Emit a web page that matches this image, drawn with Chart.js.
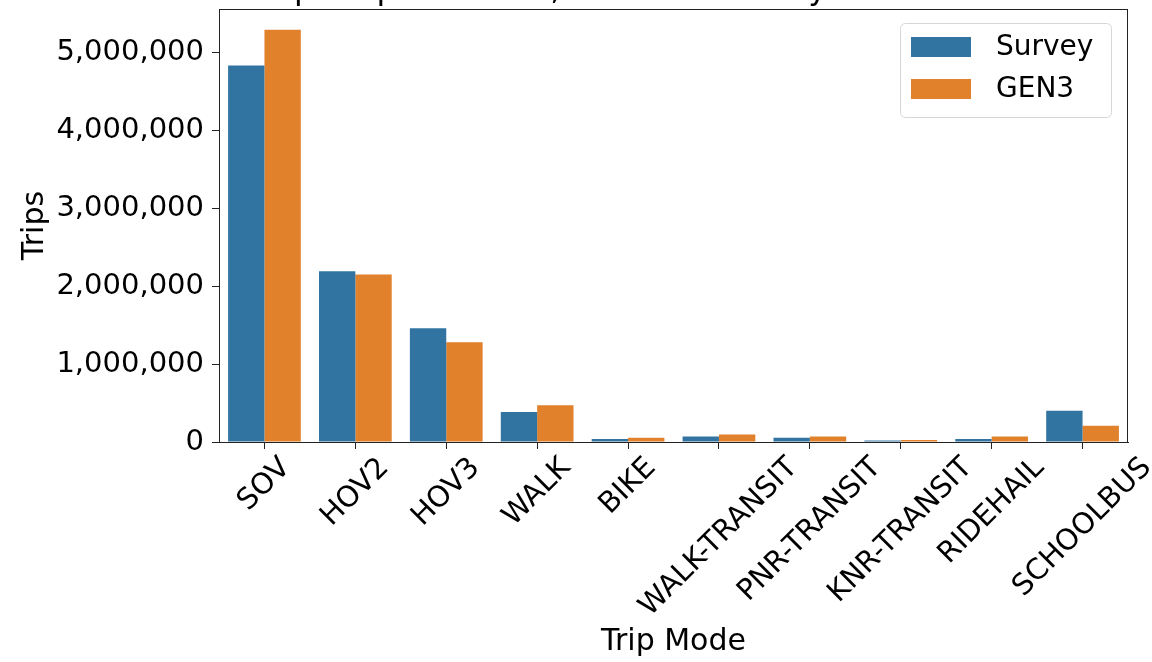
<!DOCTYPE html>
<html>
<head>
<meta charset="utf-8">
<script src="https://cdn.jsdelivr.net/npm/chart.js@4/dist/chart.umd.min.js"></script>
<style>
  html, body { margin: 0; padding: 0; background: #fff; }
  canvas { display: block; }
</style>
</head>
<body>
<canvas id="chart" width="1152" height="662"></canvas>
<script>
// chart data
const modes = ['SOV', 'HOV2', 'HOV3', 'WALK', 'BIKE', 'WALK-TRANSIT', 'PNR-TRANSIT', 'KNR-TRANSIT', 'RIDEHAIL', 'SCHOOLBUS'];
const surveyTrips = [4830000, 2190000, 1460000, 385000, 38000, 72000, 55000, 20000, 38000, 400000];
const gen3Trips = [5290000, 2150000, 1280000, 470000, 55000, 95000, 72000, 25000, 72000, 210000];
const seriesNames = ['Survey', 'GEN3'];
const seriesColors = ['#3274a1', '#e1812c'];
const yTicks = [0, 1000000, 2000000, 3000000, 4000000, 5000000];
const titleText = 'Trip Purpose Mode, GEN3 vs Survey All Home Based';

const FONT = "'DejaVu Sans', sans-serif";
const TICK_SIZE = 29;

// draws the frame, the cut-off title, the centred rotated x labels and the legend
const extras = {
    id: 'extras',
    afterDraw(chart) {
        const ctx = chart.ctx;
        const area = chart.chartArea;
        ctx.save();

        // frame round the axes
        ctx.strokeStyle = '#222';
        ctx.lineWidth = 1;
        ctx.strokeRect(Math.round(area.left) + 0.5, Math.round(area.top) + 0.5,
            Math.round(area.right - area.left) - 1, Math.round(area.bottom - area.top));

        // title, mostly above the top of the picture
        ctx.fillStyle = '#000';
        ctx.font = '32px ' + FONT;
        ctx.textAlign = 'center';
        ctx.textBaseline = 'alphabetic';
        ctx.fillText(titleText, (area.left + area.right) / 2, -1);

        // x tick labels, rotated 45 degrees, centred under the tick
        const xScale = chart.scales.x;
        ctx.font = TICK_SIZE + 'px ' + FONT;
        ctx.textBaseline = 'middle';
        const h = TICK_SIZE;
        modes.forEach((label, i) => {
            const w = ctx.measureText(label).width;
            const half = (w + h) / (2 * Math.SQRT2);
            const cx = xScale.getPixelForTick(i);
            const cy = area.bottom + 11 + half;
            ctx.save();
            ctx.translate(cx, cy);
            ctx.rotate(-Math.PI / 4);
            ctx.fillText(label, 0, 0);
            ctx.restore();
        });

        // legend box in the upper right
        const lx = 900, ly = 23, lw = 211, lh = 94;
        ctx.beginPath();
        ctx.roundRect(lx + 0.5, ly + 0.5, lw, lh, 5);
        ctx.fillStyle = 'rgba(255,255,255,0.8)';
        ctx.fill();
        ctx.strokeStyle = '#d6d6d6';
        ctx.stroke();
        ctx.textAlign = 'left';
        ctx.font = '28px ' + FONT;
        chart.data.datasets.forEach((ds, i) => {
            const y = 37 + i * 42;
            ctx.fillStyle = ds.backgroundColor;
            ctx.fillRect(911, y, 60, 20);
            ctx.fillStyle = '#000';
            ctx.fillText(ds.label, 996, y + 11);
        });

        ctx.restore();
    }
};

new Chart(document.getElementById('chart'), {
    type: 'bar',
    data: {
        labels: modes,
        datasets: [
            { label: seriesNames[0], data: surveyTrips, backgroundColor: seriesColors[0] },
            { label: seriesNames[1], data: gen3Trips, backgroundColor: seriesColors[1] }
        ]
    },
    options: {
        responsive: false,
        animation: false,
        devicePixelRatio: 1,
        layout: { padding: { top: 9, right: 24, left: 0, bottom: 0 } },
        datasets: { bar: { categoryPercentage: 0.8, barPercentage: 1.0 } },
        plugins: {
            legend: { display: false },
            tooltip: { enabled: false }
        },
        scales: {
            x: {
                afterFit: s => { s.height = 220; s.paddingLeft = 0; s.paddingRight = 0; },
                grid: { display: true, drawOnChartArea: false, drawTicks: true, tickLength: 7, offset: false, color: '#222' },
                border: { display: true, color: '#222' },
                ticks: { callback: () => '', maxRotation: 0, minRotation: 0 },
                title: {
                    display: true, text: 'Trip Mode', color: '#000',
                    font: { family: FONT, size: 30 },
                    padding: { top: 2, bottom: 2 }
                }
            },
            y: {
                min: 0,
                max: 5555000,
                afterFit: s => { s.width = 219; s.paddingTop = 0; s.paddingBottom = 0; },
                afterBuildTicks: s => { s.ticks = yTicks.map(v => ({ value: v })); },
                grid: { display: true, drawOnChartArea: false, drawTicks: true, tickLength: 7, color: '#222' },
                border: { display: true, color: '#222' },
                ticks: {
                    color: '#000',
                    padding: 8,
                    font: { family: FONT, size: TICK_SIZE },
                    callback: v => v.toLocaleString('en-US')
                },
                title: {
                    display: true, text: 'Trips', color: '#000',
                    font: { family: FONT, size: 30 },
                    padding: { top: 17, bottom: 17 }
                }
            }
        }
    },
    plugins: [extras]
});
</script>
</body>
</html>
